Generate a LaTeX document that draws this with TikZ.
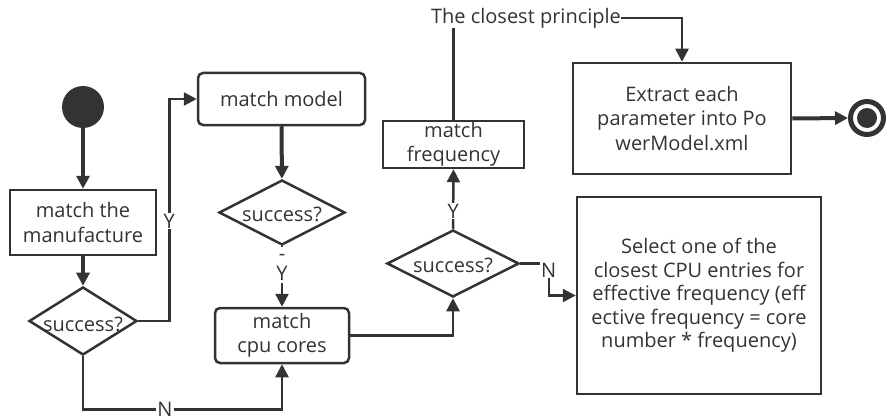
\documentclass[tikz,border=0pt]{standalone}
\usepackage{fontspec}
\setmainfont{Open Sans}
\usetikzlibrary{arrows.meta,shapes.geometric}
\definecolor{ink}{HTML}{333333}
\begin{document}
\begin{tikzpicture}[x=1pt,y=-1pt,
  txt/.style={font=\fontsize{20}{24.5}\selectfont, text=ink},
  box/.style={txt, draw=ink, line width=2.5pt, inner sep=0pt, align=center},
  rbox/.style={box, rounded corners=5pt},
  dec/.style={draw=ink, diamond, line width=2.5pt, inner sep=0pt},
  flow/.style={draw=ink, line width=2.5pt, -{Triangle[length=13pt,width=13pt]}},
  heavy/.style={flow, line width=4pt},
  plain/.style={draw=ink, line width=2.5pt},
  lbl/.style={txt, fill=white, inner sep=1pt}]
\useasboundingbox (0,0) rectangle (889,420);

% states and actions
\node[circle, fill=ink, minimum size=42pt, inner sep=0pt] (start) at (83,107) {};
\node[box, minimum width=146pt, minimum height=65pt] (mf) at (83,222.5) {match the\\manufacture};
\node[dec, minimum width=108pt, minimum height=68pt] (d1) at (83,321) {};
\node[txt] at (83,324) {success?};
\node[rbox, minimum width=167pt, minimum height=52pt] (model) at (281.5,99) {match model};
\node[dec, minimum width=126pt, minimum height=65pt] (d2) at (282,212.5) {};
\node[txt] at (282,214) {success?};
\node[rbox, minimum width=134pt, minimum height=55pt] (cores) at (282,335.5) {match\\cpu cores};
\node[dec, minimum width=132pt, minimum height=67pt] (d3) at (453,263.5) {};
\node[txt] at (453,265) {success?};
\node[box, minimum width=141pt, minimum height=47pt] (freq) at (453.5,144.5) {match\\frequency};
\node[txt, inner sep=0pt] (rule) at (526,18) {The closest principle};
\node[box, minimum width=218pt, minimum height=111pt] (extract) at (682,118.5)
  {Extract each\\parameter into Po\\werModel.xml};
\node[box, minimum width=244pt, minimum height=197pt, font=\fontsize{20}{23.5}\selectfont] (select) at (699,295.5)
  {Select one of the\\closest CPU entries for\\effective frequency (eff\\ective frequency = core\\number * frequency)};
\node[circle, draw=ink, line width=5pt, minimum size=33pt, inner sep=0pt] (end) at (867,118) {};
\fill[ink] (end.center) circle (10pt);

% transitions
\draw[heavy] (start) -- (mf);
\draw[heavy] (mf) -- (d1);
\draw[flow] (d1.east) -- ++(31,0) |- node[lbl, pos=0.225] {Y} (model.west);
\draw[flow] (d1.south) -- ++(0,53) -| node[lbl, pos=0.206] {N} (cores.south);
\draw[heavy] (model) -- (d2);
\draw[flow] (d2.south) -- node[fill=white, minimum width=14pt, minimum height=36pt, inner sep=0pt, pos=0.31] (yc) {} (cores.north);
\node[txt, inner sep=0pt] at ([yshift=8pt]yc.center) {-};
\node[txt, inner sep=0pt] at ([yshift=-8pt]yc.center) {Y};
\draw[flow] (cores.east) -| (d3.south);
\draw[flow] (d3.north) -- node[lbl, pos=0.3] {Y} (freq.south);
\draw[plain] (freq.north) -- (freq.north |- rule.south);
\draw[flow] (rule.east) -| (extract.north);
\draw[heavy] (extract.east) -- (end.west);
\draw[flow] (d3.east) -| node[lbl, pos=0.6] {N} ([xshift=-27pt]select.west) -- (select.west);
\end{tikzpicture}
\end{document}
